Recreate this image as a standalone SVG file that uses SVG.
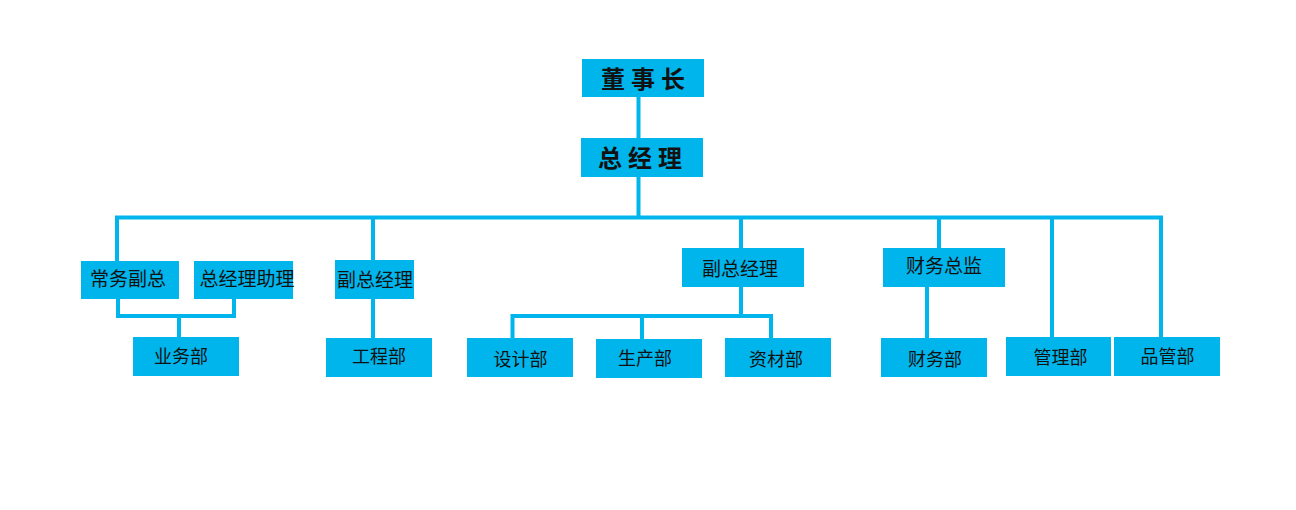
<svg xmlns="http://www.w3.org/2000/svg" width="1296" height="510" viewBox="0 0 1296 510">
<style>
.box{fill:#00B5EB}
.t{font-family:"Noto Sans CJK SC","Noto Sans",sans-serif;fill:#111;text-anchor:middle}
.big{font-size:24px;font-weight:bold;letter-spacing:6px}
.m{font-size:19px}
.s{font-size:18px}
.c{fill:none;stroke:#00B5EB;stroke-width:4;stroke-linejoin:miter}
</style>
<rect width="1296" height="510" fill="#fff"/>
<g id="connectors">
<path class="c" d="M638.5 97 V138"/>
<path class="c" d="M638.5 177 V217.5"/>
<path class="c" d="M117 261 V217.5 H1161 V337"/>
<path class="c" d="M373 217.5 V260"/>
<path class="c" d="M741 217.5 V248"/>
<path class="c" d="M939 217.5 V248"/>
<path class="c" d="M1052 217.5 V337"/>
<path class="c" d="M118 299 V316 H234 V299"/>
<path class="c" d="M179 316 V337"/>
<path class="c" d="M373 299 V338"/>
<path class="c" d="M741 287 V316"/>
<path class="c" d="M512.5 338 V316 H771 V338"/>
<path class="c" d="M642 316 V339"/>
<path class="c" d="M927 287 V338"/>
</g>
<g id="n-dongshizhang"><rect class="box" x="582" y="59" width="122" height="38"/><text class="t big" x="646" y="88">董事长</text></g>
<g id="n-zongjingli"><rect class="box" x="581" y="138" width="122" height="39"/><text class="t big" x="643" y="167">总经理</text></g>
<g id="n-changwufuzong"><rect class="box" x="81" y="261" width="98" height="38"/><text class="t m" x="128" y="286">常务副总</text></g>
<g id="n-zjlzl"><rect class="box" x="194" y="261" width="99" height="38"/><text class="t m" x="247" y="286">总经理助理</text></g>
<g id="n-fzjl1"><rect class="box" x="335" y="260" width="79" height="39"/><text class="t m" x="375" y="287">副总经理</text></g>
<g id="n-fzjl2"><rect class="box" x="682" y="248" width="122" height="39"/><text class="t m" x="740" y="276">副总经理</text></g>
<g id="n-cwzj"><rect class="box" x="883" y="248" width="122" height="39"/><text class="t m" x="944" y="273">财务总监</text></g>
<g id="n-yewubu"><rect class="box" x="133" y="337" width="106" height="39"/><text class="t s" x="181" y="363">业务部</text></g>
<g id="n-gongchengbu"><rect class="box" x="326" y="338" width="106" height="39"/><text class="t s" x="379" y="363">工程部</text></g>
<g id="n-shejibu"><rect class="box" x="467" y="338" width="106" height="39"/><text class="t s" x="520.5" y="366">设计部</text></g>
<g id="n-shengchanbu"><rect class="box" x="596" y="339" width="106" height="39"/><text class="t s" x="645" y="365">生产部</text></g>
<g id="n-zicaibu"><rect class="box" x="725" y="338" width="106" height="39"/><text class="t s" x="776" y="366">资材部</text></g>
<g id="n-caiwubu"><rect class="box" x="881" y="338" width="106" height="39"/><text class="t s" x="935" y="366">财务部</text></g>
<g id="n-guanlibu"><rect class="box" x="1006" y="337" width="105" height="39"/><text class="t s" x="1060.5" y="364">管理部</text></g>
<g id="n-pinguanbu"><rect class="box" x="1114" y="337" width="106" height="39"/><text class="t s" x="1167.5" y="363">品管部</text></g>
</svg>
